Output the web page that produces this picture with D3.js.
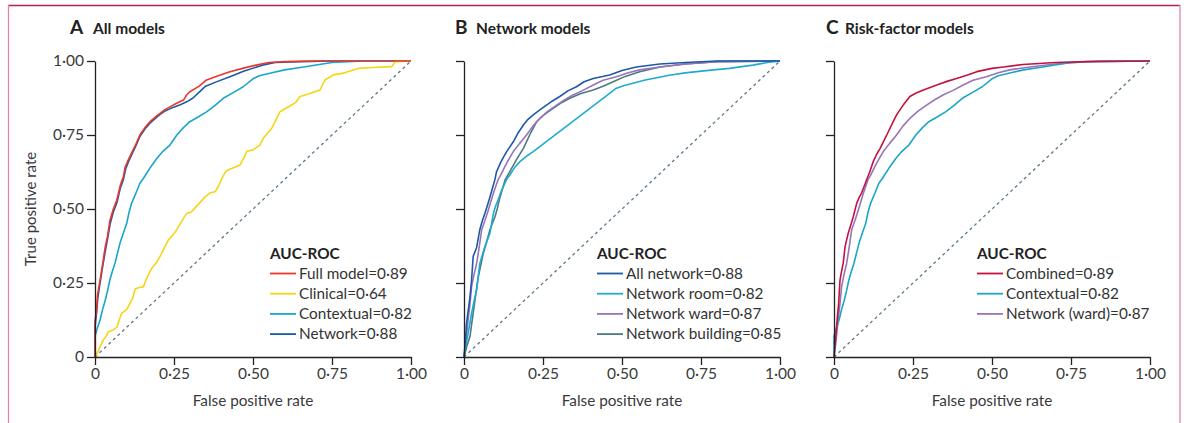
<!DOCTYPE html>
<html>
<head>
<meta charset="utf-8">
<script src="https://cdn.jsdelivr.net/npm/d3@7"></script>
<style>
  body { margin: 0; background: #fff; }
  svg { font-family: Lato, "Open Sans", sans-serif; }
</style>
</head>
<body>
<svg width="1184" height="423"></svg>
<script>
// tick values on both axes
var ticks = [0, 0.25, 0.5, 0.75, 1];

// panel A
var fullModel = [[0,0],[0,.12],[.005,.16],[.008,.21],[.016,.26],[.025,.32],[.032,.37],[.04,.41],[.047,.46],[.058,.5],[.069,.53],[.08,.58],[.09,.61],[.095,.64],[.105,.665],[.116,.69],[.13,.72],[.142,.75],[.158,.775],[.174,.795],[.19,.81],[.206,.823],[.22,.835],[.237,.845],[.26,.858],[.28,.868],[.29,.885],[.30,.896],[.33,.915],[.353,.936],[.39,.95],[.427,.964],[.47,.976],[.51,.986],[.55,.995],[.6,.998],[.7,1],[1,1]];
var clinical = [[0,0],[.01,.02],[.018,.04],[.026,.057],[.035,.07],[.042,.085],[.055,.09],[.069,.10],[.075,.12],[.084,.147],[.1,.16],[.11,.18],[.12,.2],[.127,.23],[.14,.235],[.153,.237],[.165,.27],[.18,.30],[.195,.32],[.206,.34],[.22,.37],[.232,.395],[.245,.41],[.259,.43],[.275,.46],[.29,.485],[.305,.49],[.32,.508],[.335,.525],[.348,.54],[.365,.555],[.38,.558],[.39,.575],[.40,.60],[.41,.62],[.417,.63],[.44,.64],[.459,.649],[.47,.67],[.48,.694],[.50,.70],[.522,.716],[.532,.738],[.545,.755],[.559,.772],[.57,.795],[.585,.828],[.60,.838],[.617,.848],[.635,.86],[.649,.88],[.68,.89],[.712,.902],[.72,.92],[.728,.936],[.754,.953],[.79,.96],[.833,.975],[.88,.978],[.939,.981],[.95,.998],[1,1]];
var contextual = [[0,0],[0,.07],[.008,.1],[.016,.125],[.024,.16],[.032,.19],[.04,.225],[.047,.26],[.055,.29],[.063,.316],[.071,.35],[.079,.384],[.09,.42],[.10,.45],[.108,.49],[.116,.52],[.13,.555],[.142,.587],[.153,.603],[.175,.64],[.195,.67],[.215,.695],[.237,.716],[.259,.75],[.28,.775],[.30,.795],[.325,.81],[.353,.828],[.38,.85],[.406,.874],[.44,.895],[.469,.913],[.50,.94],[.52,.95],[.56,.96],[.6,.97],[.65,.978],[.69,.985],[.75,.995],[.85,1],[1,1]];
var network = [[0,0],[0,.1],[.005,.15],[.009,.2],[.016,.25],[.025,.31],[.033,.36],[.04,.4],[.048,.45],[.058,.49],[.069,.52],[.08,.57],[.09,.6],[.097,.635],[.106,.66],[.117,.685],[.13,.715],[.142,.745],[.158,.77],[.174,.79],[.19,.805],[.206,.82],[.22,.83],[.24,.84],[.27,.852],[.29,.862],[.31,.875],[.33,.895],[.35,.915],[.39,.932],[.427,.947],[.47,.965],[.53,.986],[.57,.995],[.65,.998],[.75,1],[1,1]];

// panel B
var allNetwork = [[0,0],[.004,.05],[.008,.114],[.015,.17],[.019,.204],[.024,.26],[.029,.34],[.04,.37],[.05,.43],[.058,.46],[.066,.485],[.075,.515],[.082,.54],[.09,.57],[.098,.60],[.103,.626],[.115,.655],[.125,.675],[.135,.694],[.156,.727],[.17,.755],[.188,.784],[.2,.8],[.219,.818],[.24,.835],[.261,.851],[.28,.865],[.303,.88],[.33,.9],[.356,.913],[.38,.93],[.409,.941],[.461,.953],[.5,.968],[.545,.98],[.62,.99],[.7,.995],[.8,1],[1,1]];
var networkRoom = [[0,0],[.006,.04],[.013,.08],[.024,.147],[.032,.19],[.04,.226],[.05,.316],[.058,.345],[.066,.373],[.082,.418],[.093,.485],[.1,.51],[.108,.53],[.114,.55],[.124,.575],[.135,.6],[.145,.615],[.16,.64],[.177,.66],[.2,.68],[.219,.694],[.44,.874],[.46,.89],[.482,.908],[.51,.918],[.535,.925],[.57,.935],[.598,.941],[.65,.952],[.7,.96],[.736,.964],[.79,.97],[.84,.975],[.914,.986],[.96,.995],[1,1]];
var networkWard = [[0,0],[.006,.05],[.013,.125],[.019,.18],[.024,.238],[.032,.28],[.04,.316],[.048,.37],[.056,.43],[.066,.46],[.077,.497],[.085,.525],[.093,.553],[.108,.60],[.114,.61],[.13,.645],[.143,.67],[.156,.694],[.175,.72],[.198,.75],[.218,.78],[.24,.806],[.265,.83],[.293,.851],[.32,.87],[.345,.885],[.375,.9],[.409,.919],[.44,.935],[.482,.947],[.52,.96],[.556,.97],[.62,.98],[.7,.99],[.8,.998],[1,1]];
var networkBuilding = [[0,0],[.01,.04],[.019,.07],[.024,.11],[.029,.147],[.037,.21],[.045,.27],[.053,.31],[.061,.35],[.072,.39],[.082,.43],[.098,.474],[.105,.5],[.114,.54],[.13,.598],[.145,.626],[.165,.665],[.188,.705],[.21,.755],[.23,.795],[.255,.82],[.282,.84],[.31,.86],[.335,.874],[.37,.89],[.409,.902],[.44,.915],[.472,.93],[.51,.948],[.556,.964],[.62,.98],[.7,.99],[.8,.998],[1,1]];

// panel C (contextual and ward network are the same models as above)
var combined = [[0,0],[.004,.05],[.008,.10],[.011,.14],[.014,.17],[.019,.26],[.024,.29],[.029,.316],[.035,.373],[.045,.418],[.053,.445],[.061,.474],[.072,.52],[.08,.54],[.087,.553],[.095,.575],[.103,.598],[.113,.625],[.124,.66],[.135,.685],[.146,.705],[.16,.735],[.172,.761],[.185,.79],[.198,.818],[.219,.851],[.24,.88],[.26,.892],[.283,.902],[.325,.919],[.36,.932],[.388,.941],[.42,.952],[.452,.964],[.5,.975],[.536,.98],[.598,.988],[.7,.995],[.8,.998],[1,1]];

var panels = [
  { letter: "A", title: "All models", x0: 95, labels: true, tx: 70, ttx: 93,
    series: [
      { name: "Full model=0·89", data: fullModel, color: "#e8372d" },
      { name: "Clinical=0·64", data: clinical, color: "#f6d514" },
      { name: "Contextual=0·82", data: contextual, color: "#1ba5c9" },
      { name: "Network=0·88", data: network, color: "#1d5aa6" }
    ], legendX: 270 },
  { letter: "B", title: "Network models", x0: 464, labels: false, tx: 455, ttx: 476,
    series: [
      { name: "All network=0·88", data: allNetwork, color: "#1d5aa6" },
      { name: "Network room=0·82", data: networkRoom, color: "#1fabd0" },
      { name: "Network ward=0·87", data: networkWard, color: "#9a74b8" },
      { name: "Network building=0·85", data: networkBuilding, color: "#4b7a82" }
    ], legendX: 597 },
  { letter: "C", title: "Risk-factor models", x0: 834, labels: false, tx: 826, ttx: 845,
    series: [
      { name: "Combined=0·89", data: combined, color: "#c2133f" },
      { name: "Contextual=0·82", data: contextual, color: "#1ba5c9" },
      { name: "Network (ward)=0·87", data: networkWard, color: "#9a74b8" }
    ], legendX: 977 }
];

var svg = d3.select("svg");
var plotW = 316, plotTop = 61, plotH = 296;

// frame round the figure
svg.append("line").attr("x1", 8).attr("x2", 1180).attr("y1", 5.5).attr("y2", 5.5)
    .style("stroke", "#b5214a").style("stroke-width", 1.3);
svg.append("line").attr("x1", 8.5).attr("x2", 8.5).attr("y1", 5).attr("y2", 423)
    .style("stroke", "#d98aa0").style("stroke-width", 1.3);
svg.append("line").attr("x1", 1180).attr("x2", 1180).attr("y1", 5).attr("y2", 423)
    .style("stroke", "#d98aa0").style("stroke-width", 1.3);

function fmt(d) { return d === 0 ? "0" : d3.format(".2f")(d).replace(".", "·"); }

panels.forEach(function(p) {
  var x = d3.scaleLinear().domain([0, 1]).range([p.x0, p.x0 + plotW]);
  var y = d3.scaleLinear().domain([0, 1]).range([plotTop + plotH, plotTop]);
  var g = svg.append("g");

  // title
  g.append("text").attr("x", p.tx).attr("y", 34).text(p.letter)
      .style("font-size", "19px").style("font-weight", "bold").style("fill", "#222");
  g.append("text").attr("x", p.ttx).attr("y", 34).text(p.title)
      .style("font-size", "15.5px").style("font-weight", "bold").style("fill", "#222");

  // diagonal
  g.append("line")
      .attr("x1", x(0)).attr("y1", y(0)).attr("x2", x(1)).attr("y2", y(1))
      .style("stroke", "#5b7886").style("stroke-width", 1.3)
      .style("stroke-dasharray", "3,3.2");

  var line = d3.line().x(function(d) { return x(d[0]); }).y(function(d) { return y(d[1]); });

  // draw in reverse so first legend entry sits on top
  p.series.slice().reverse().forEach(function(s) {
    g.append("path").datum(s.data).attr("d", line)
        .style("fill", "none").style("stroke", s.color).style("stroke-width", 1.6)
        .style("stroke-linejoin", "round");
  });

  var yAxis = g.append("g").attr("transform", "translate(" + p.x0 + ",0)")
      .call(d3.axisLeft(y).tickValues(ticks).tickSize(8).tickSizeOuter(0)
        .tickFormat(p.labels ? fmt : function() { return ""; }));
  var xAxis = g.append("g").attr("transform", "translate(0," + (plotTop + plotH) + ")")
      .call(d3.axisBottom(x).tickValues(ticks).tickSize(8).tickSizeOuter(0).tickFormat(fmt));
  [yAxis, xAxis].forEach(function(a) {
    a.selectAll("path, line").style("stroke", "#222").style("stroke-width", 1.3);
    a.selectAll("text").style("font-family", "Lato, sans-serif").style("font-size", "15.5px").style("fill", "#3a3a3a");
  });

  g.append("text").attr("x", p.x0 + plotW / 2).attr("y", 406).attr("text-anchor", "middle")
      .text("False positive rate").style("font-size", "15.3px").style("fill", "#3a3a3a");

  if (p.labels) {
    g.append("text").attr("transform", "translate(36," + (plotTop + plotH / 2) + ") rotate(-90)")
        .attr("text-anchor", "middle").text("True positive rate")
        .style("font-size", "15px").style("fill", "#3a3a3a");
  }

  // legend
  g.append("text").attr("x", p.legendX).attr("y", 259).text("AUC-ROC")
      .style("font-size", "15.3px").style("font-weight", "bold").style("fill", "#222");
  p.series.forEach(function(s, i) {
    var ly = 278.5 + i * 20.2;
    g.append("line").attr("x1", p.legendX).attr("x2", p.legendX + 26)
        .attr("y1", ly - 5).attr("y2", ly - 5)
        .style("stroke", s.color).style("stroke-width", 1.8);
    g.append("text").attr("x", p.legendX + 29).attr("y", ly).text(s.name)
        .style("font-size", "15.3px").style("fill", "#333");
  });
});
</script>
</body>
</html>
